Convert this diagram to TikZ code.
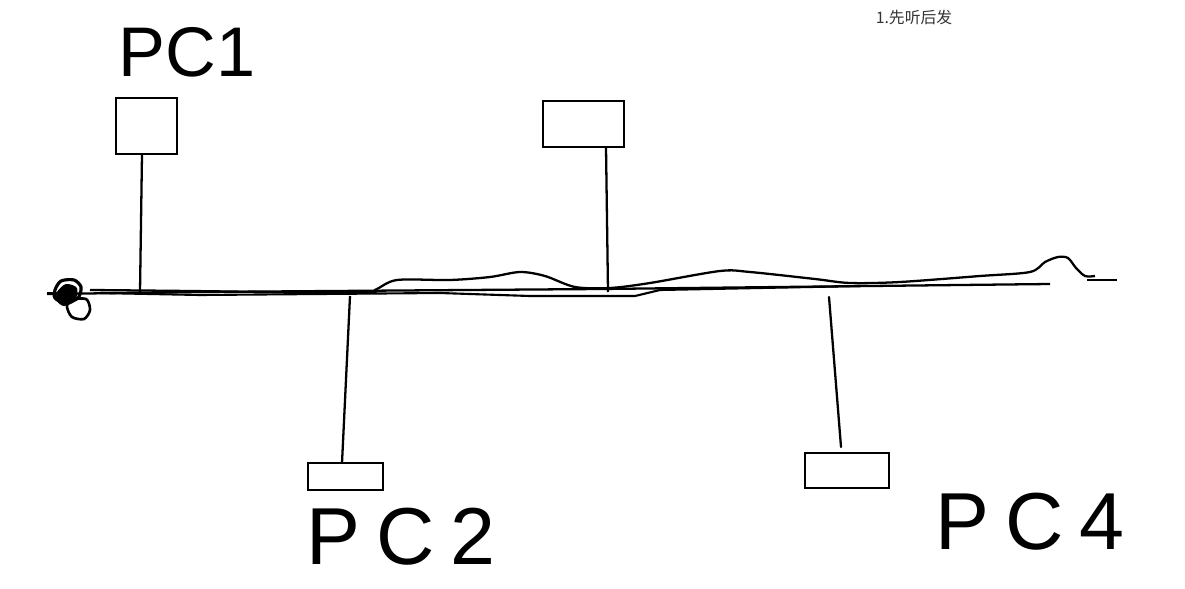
\documentclass[tikz,border=0pt]{standalone}
\usepackage{fontspec}
\newfontfamily\cjk{Noto Sans CJK SC}
\newfontfamily\handfont{Liberation Sans}
\usetikzlibrary{calc}
\usepackage{tkz-euclide}

\begin{document}
\begin{tikzpicture}[x=0.02cm,y=-0.02cm,
  pcbox/.style={draw,line width=1.4pt,inner sep=0pt,outer sep=0pt},
  hand/.style={font=\handfont\fontsize{40}{40}\selectfont,inner sep=0pt}]
\useasboundingbox (0,0) rectangle (1185,588);
\tkzSetUpLine[line width=1.3pt,color=black]

\tkzDefPoints{140/292/B1,350/296/B2,608/292/B3,829/297/B4,841/447/C4}

% the four stations
\node[pcbox,minimum width=1.22cm,minimum height=1.12cm] (pc1) at (146.5,126) {};
\node[pcbox,minimum width=1.62cm,minimum height=0.92cm] (pc3) at (583.5,124) {};
\node[pcbox,minimum width=1.5cm,minimum height=0.54cm] (pc2) at (345.5,476.5) {};
\node[pcbox,minimum width=1.68cm,minimum height=0.7cm] (pc4) at (847,470.5) {};

\draw[line width=1.3pt] ([xshift=-0.09cm]pc1.south) -- (B1);
\draw[line width=1.3pt] ([xshift=0.45cm]pc3.south) -- (B3);
\draw[line width=1.3pt] ([xshift=-0.07cm]pc2.north) -- (B2);
\tkzDrawSegments(B4,C4)

% the bus
\draw[line width=1.3pt] (47,294) -- (200,292) -- (600,289) -- (1050,284);
\draw[line width=1.2pt] (100,293) -- (200,295) -- (440,293) -- (530,296) -- (635,296) -- (660,290) -- (860,286);
\draw[line width=1.3pt] plot[smooth,tension=.5] coordinates {(90,290) (190,291) (360,293) (375,290)
  (397,280) (450,280) (490,277) (520,272) (545,276) (575,287) (610,288) (650,283) (720,271)
  (750,272) (815,279) (850,283) (900,282) (980,276) (1030,272) (1045,262) (1058,257) (1068,258)
  (1076,268) (1085,276) (1095,276)};
\draw[line width=1.3pt] (1087,280) -- (1117,280);

% scribble at the end
\draw[line width=1.8pt] plot[smooth cycle] coordinates {(55,290) (61,281) (74,280) (81,287) (78,298) (65,303) (55,298)};
\draw[line width=1.5pt] plot[smooth cycle] coordinates {(70,300) (86,299) (90,310) (84,319) (72,317) (67,307)};
\fill plot[smooth cycle] coordinates {(57,292) (66,284) (77,288) (75,301) (64,306) (57,301)};
\draw[line width=1.3pt] (47,293) -- (62,293);

% labels
\node[hand] (pc1label) at (187,52) {PC1};
\node[hand,font=\handfont\fontsize{46}{46}\selectfont\addfontfeature{LetterSpace=20}] (pc2label) at (401,537) {PC2};
\node[hand,font=\handfont\fontsize{46}{46}\selectfont\addfontfeature{LetterSpace=20}] (pc4label) at (1030,522) {PC4};
\node[font=\cjk\fontsize{9}{9}\selectfont,text=black!80,inner sep=0pt] (title) at (914,17) {1.先听后发};

\end{tikzpicture}
\end{document}
